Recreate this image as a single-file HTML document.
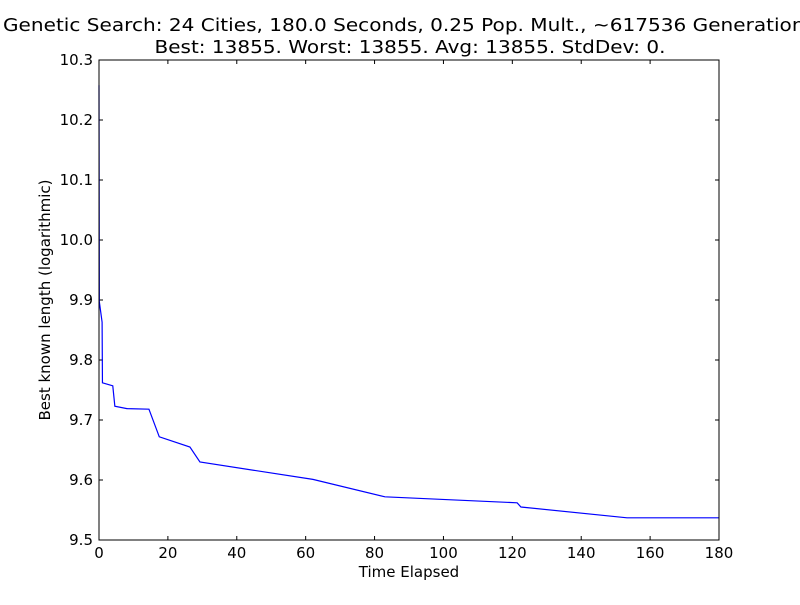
<!DOCTYPE html>
<html><head><meta charset="utf-8"><style>
body{margin:0;background:#fff;width:800px;height:600px;overflow:hidden}
text{font-family:"DejaVu Sans","Liberation Sans",sans-serif}
</style></head><body>
<svg id="chart" width="800" height="600" xmlns="http://www.w3.org/2000/svg">
<rect width="800" height="600" fill="#fff"/>
<text x="409" y="31" font-size="18" text-anchor="middle" textLength="812" lengthAdjust="spacingAndGlyphs">Genetic Search: 24 Cities, 180.0 Seconds, 0.25 Pop. Mult., ~617536 Generations</text>
<text x="410" y="53" font-size="18" text-anchor="middle" textLength="511" lengthAdjust="spacingAndGlyphs">Best: 13855. Worst: 13855. Avg: 13855. StdDev: 0.</text>
<g id="ticks"></g>
<polyline id="series" fill="none" stroke="#0000ff" stroke-width="1.2"/>
<rect x="99" y="60" width="620" height="480" fill="none" stroke="#000" stroke-width="1"/>
<text x="409" y="577" font-size="15" text-anchor="middle">Time Elapsed</text>
<text transform="translate(50,300) rotate(-90)" font-size="15" text-anchor="middle">Best known length (logarithmic)</text>
</svg>
<script>
const times=[0,0.1,0.9,1.0,4.0,4.6,8.1,14.5,17.5,26.4,29.3,62.1,83.0,121.4,122.5,153.3,180];
const values=[10.258,9.897,9.863,9.762,9.757,9.723,9.719,9.718,9.672,9.655,9.630,9.601,9.572,9.562,9.555,9.537,9.537];
const xTicks=[0,20,40,60,80,100,120,140,160,180];
const yTicks=[9.5,9.6,9.7,9.8,9.9,10.0,10.1,10.2,10.3];
const X0=99,X1=719,Y0=540,Y1=60;
const sx=t=>X0+(t-0)/(180-0)*(X1-X0);
const sy=v=>Y0-(v-9.5)/(10.3-9.5)*(Y0-Y1);
const ns="http://www.w3.org/2000/svg";
const g=document.getElementById('ticks');
function add(tag,attrs,parent){const e=document.createElementNS(ns,tag);for(const k in attrs)e.setAttribute(k,attrs[k]);(parent||g).appendChild(e);return e;}
xTicks.forEach(t=>{const x=sx(t);
 const l1=add('line',{x1:x,x2:x,y1:Y0,y2:Y0-4,stroke:'#000'});
 
 
 add('line',{x1:x,x2:x,y1:Y1,y2:Y1+4,stroke:'#000'});
 const tx=add('text',{x:x,y:Y0+18,'font-size':15,'text-anchor':'middle'});tx.textContent=t;
 
 
});
yTicks.forEach(v=>{const y=sy(v);
 const l1=add('line',{x1:X0,x2:X0+4,y1:y,y2:y,stroke:'#000'});
 
 
 add('line',{x1:X1,x2:X1-4,y1:y,y2:y,stroke:'#000'});
 const tx=add('text',{x:X0-6,y:y+5,'font-size':15,'text-anchor':'end'});tx.textContent=v.toFixed(1);
 
 
});
document.getElementById('series').setAttribute('points',times.map((t,i)=>sx(t)+','+sy(values[i])).join(' '));
</script>
</body></html>
